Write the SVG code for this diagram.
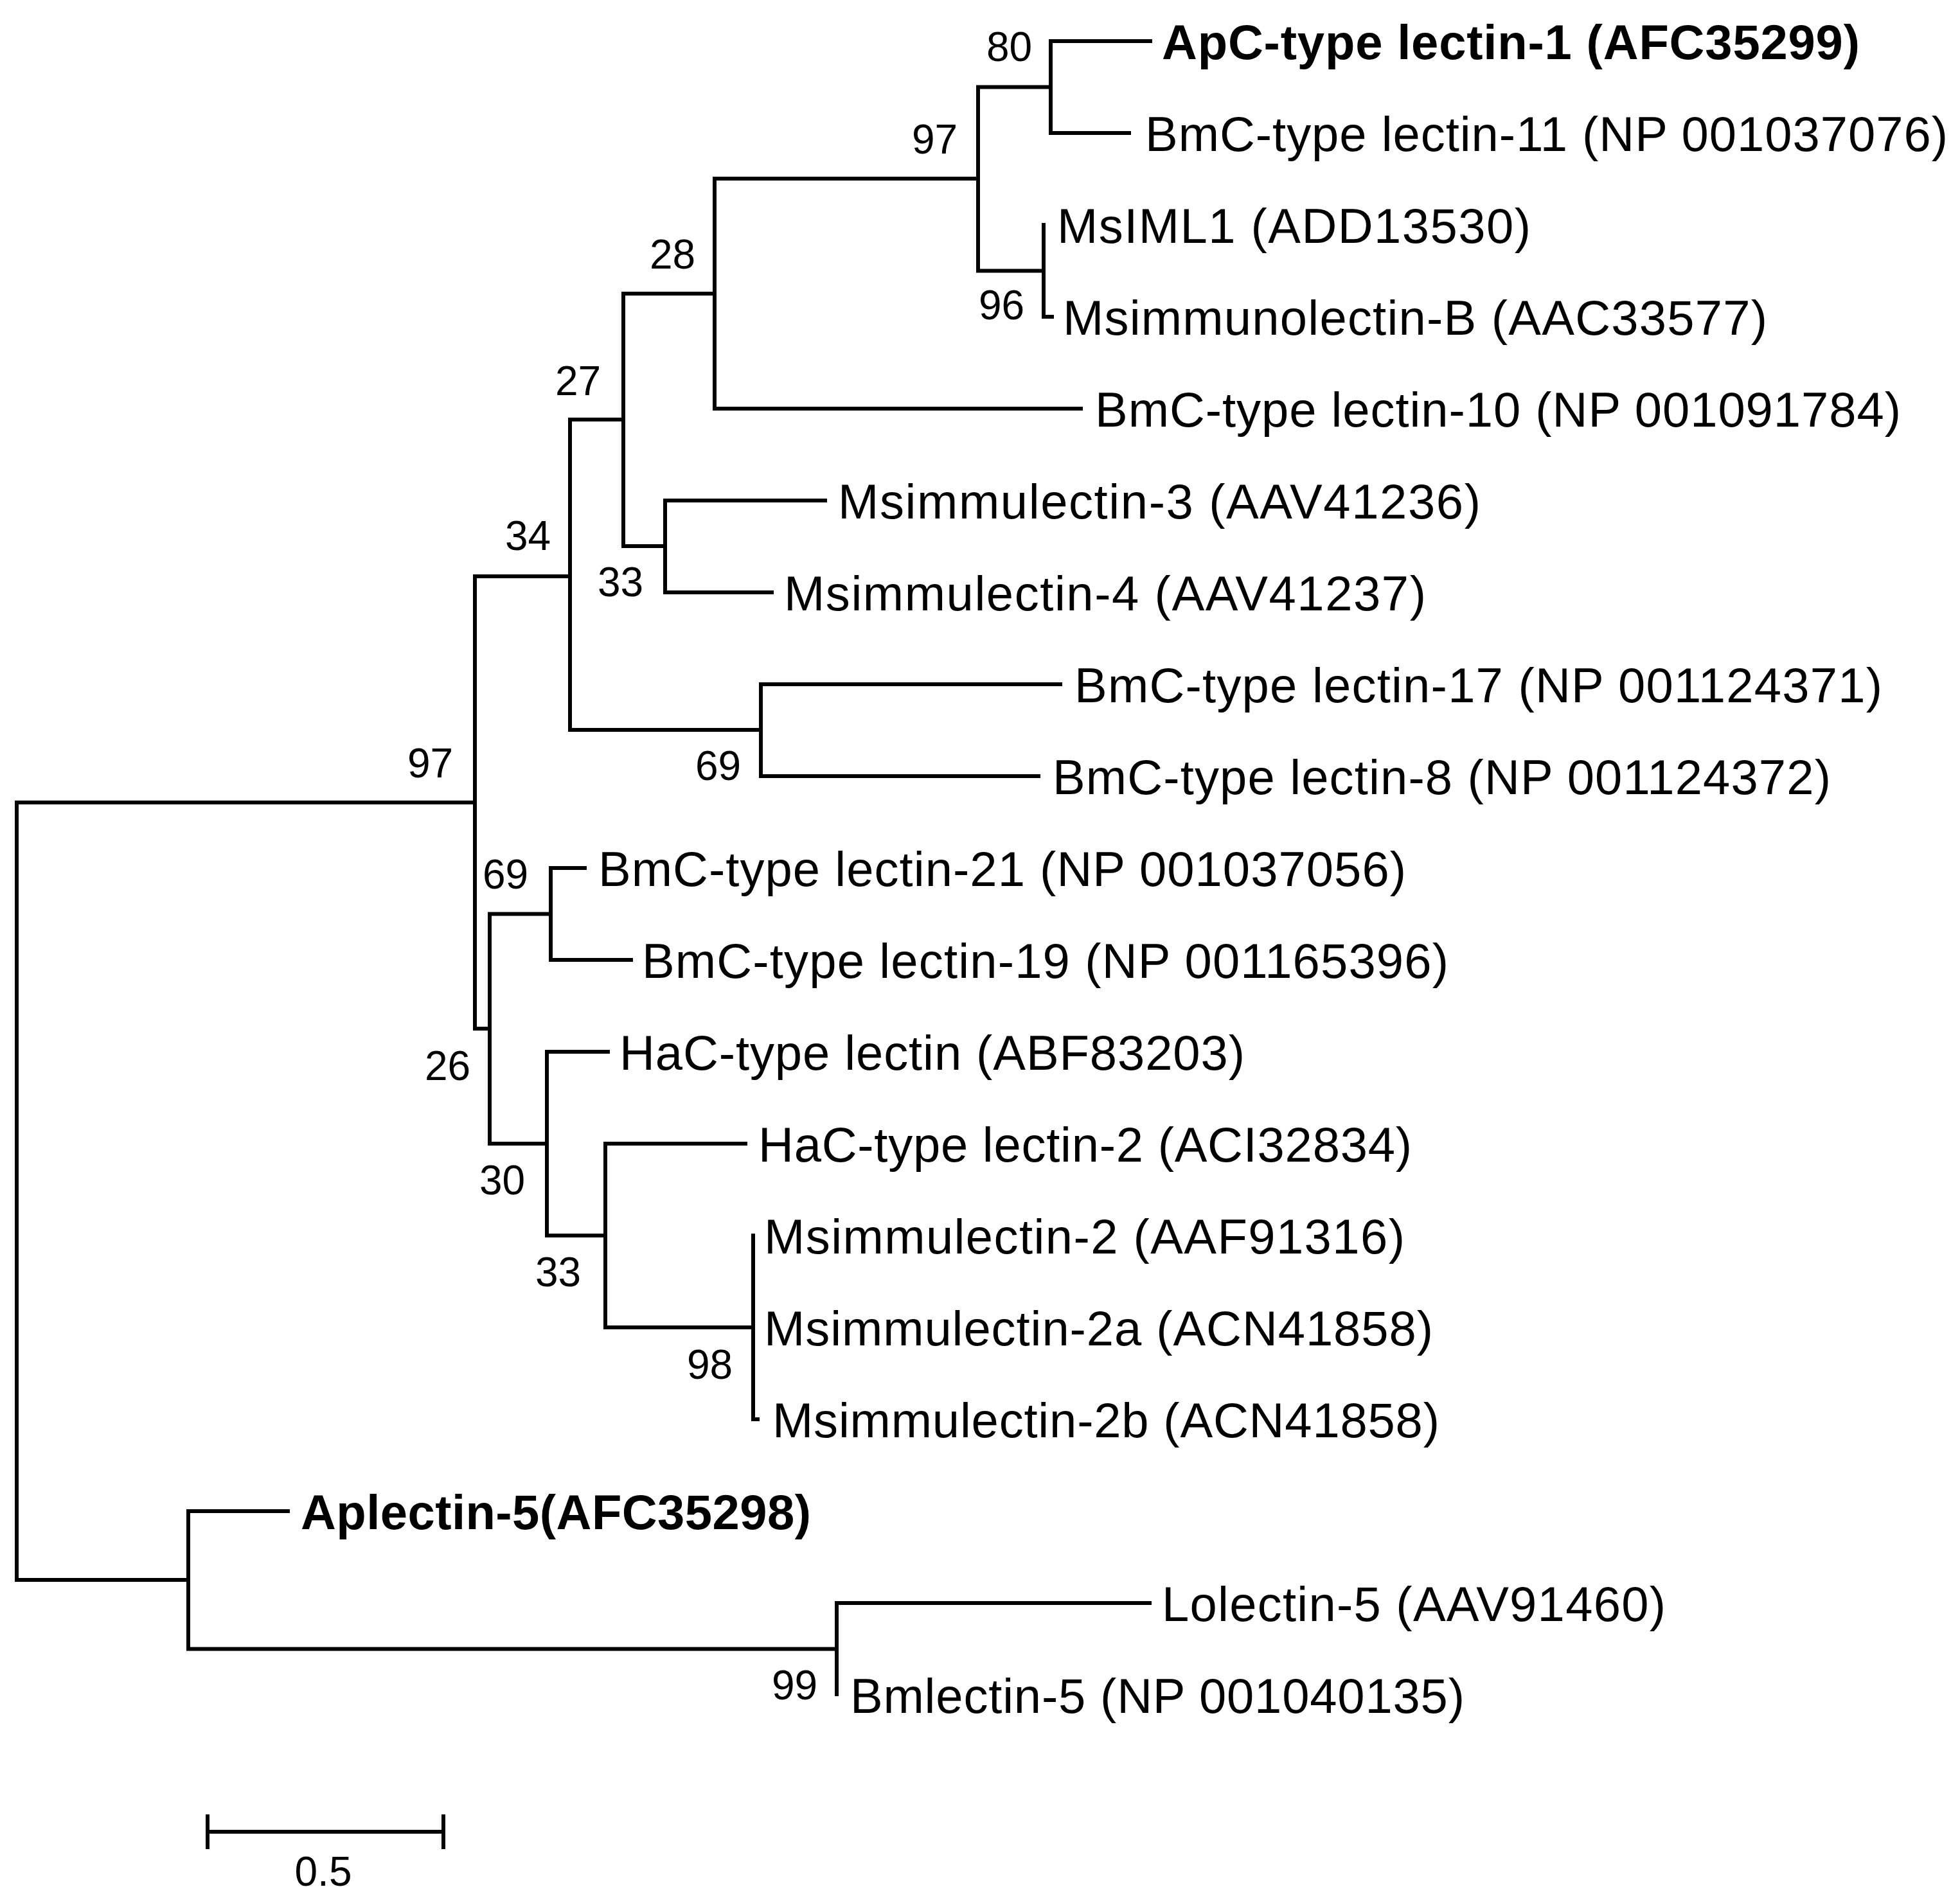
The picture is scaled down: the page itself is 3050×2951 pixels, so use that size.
<svg xmlns="http://www.w3.org/2000/svg" width="3050" height="2951" viewBox="0 0 3050 2951">
<style>
.br{fill:none;stroke:#000;stroke-width:6;stroke-linecap:butt;stroke-linejoin:miter}
.tx{font-family:"Liberation Sans",Arial,sans-serif;font-size:76px;fill:#000}
.b{font-weight:bold}
.bs{font-family:"Liberation Sans",Arial,sans-serif;font-size:64px;fill:#000}
</style>
<rect width="3050" height="2951" fill="#fff"/>
<g id="connectors">
<path class="br" d="M739 1249 H26 V2459 H293"/>
<path class="br" d="M887 897 H739 V1601 H762"/>
<path class="br" d="M970 653 H887 V1136 H1184"/>
<path class="br" d="M1112 457 H970 V850 H1035"/>
<path class="br" d="M1522 278 H1112 V636 H1685"/>
<path class="br" d="M1635 135.5 H1522 V421.5 H1624"/>
<path class="br" d="M1793 64 H1635 V207 H1760"/>
<path class="br" d="M1624 347 V493 H1640"/>
<path class="br" d="M1287 779 H1035 V922 H1204"/>
<path class="br" d="M1653 1065 H1184 V1208 H1619"/>
<path class="br" d="M857 1422.5 H762 V1780 H851"/>
<path class="br" d="M913 1351 H857 V1494 H985"/>
<path class="br" d="M949 1637 H851 V1923 H942"/>
<path class="br" d="M1163 1780 H942 V2066 H1172"/>
<path class="br" d="M1172 1920 V2209 H1182"/>
<path class="br" d="M451 2352 H293 V2566.5 H1302"/>
<path class="br" d="M1792 2495 H1302 V2640"/>
</g>
<g id="taxa">
<g id="t1"><text class="tx b" x="1808" y="92" textLength="1086" lengthAdjust="spacing">ApC-type  lectin-1 (AFC35299)</text></g>
<g id="t2"><text class="tx" x="1782" y="235" textLength="1249" lengthAdjust="spacing">BmC-type lectin-11 (NP 001037076)</text></g>
<g id="t3"><text class="tx" x="1645" y="378" textLength="737" lengthAdjust="spacing">MsIML1  (ADD13530)</text></g>
<g id="t4"><text class="tx" x="1654" y="521" textLength="1096" lengthAdjust="spacing">Msimmunolectin-B (AAC33577)</text></g>
<g id="t5"><text class="tx" x="1704" y="664" textLength="1254" lengthAdjust="spacing">BmC-type lectin-10 (NP 001091784)</text></g>
<g id="t6"><text class="tx" x="1304" y="807" textLength="1000" lengthAdjust="spacing">Msimmulectin-3 (AAV41236)</text></g>
<g id="t7"><text class="tx" x="1220" y="950" textLength="999" lengthAdjust="spacing">Msimmulectin-4 (AAV41237)</text></g>
<g id="t8"><text class="tx" x="1672" y="1093" textLength="1257" lengthAdjust="spacing">BmC-type lectin-17 (NP 001124371)</text></g>
<g id="t9"><text class="tx" x="1638" y="1236" textLength="1211" lengthAdjust="spacing">BmC-type lectin-8 (NP 001124372)</text></g>
<g id="t10"><text class="tx" x="931" y="1379" textLength="1257" lengthAdjust="spacing">BmC-type lectin-21 (NP 001037056)</text></g>
<g id="t11"><text class="tx" x="999" y="1522" textLength="1255" lengthAdjust="spacing">BmC-type lectin-19 (NP 001165396)</text></g>
<g id="t12"><text class="tx" x="964" y="1665" textLength="973" lengthAdjust="spacing">HaC-type lectin (ABF83203)</text></g>
<g id="t13"><text class="tx" x="1180" y="1808" textLength="1017" lengthAdjust="spacing">HaC-type lectin-2 (ACI32834)</text></g>
<g id="t14"><text class="tx" x="1189" y="1951" textLength="997" lengthAdjust="spacing">Msimmulectin-2 (AAF91316)</text></g>
<g id="t15"><text class="tx" x="1189" y="2094" textLength="1041" lengthAdjust="spacing">Msimmulectin-2a (ACN41858)</text></g>
<g id="t16"><text class="tx" x="1202" y="2237" textLength="1038" lengthAdjust="spacing">Msimmulectin-2b (ACN41858)</text></g>
<g id="t17"><text class="tx b" x="468" y="2380" textLength="794" lengthAdjust="spacing">Aplectin-5(AFC35298)</text></g>
<g id="t18"><text class="tx" x="1808" y="2523" textLength="784" lengthAdjust="spacing">Lolectin-5 (AAV91460)</text></g>
<g id="t19"><text class="tx" x="1323" y="2666" textLength="956" lengthAdjust="spacing">Bmlectin-5 (NP 001040135)</text></g>
</g>
<g id="bootstrap">
<text class="bs" x="1535" y="95">80</text>
<text class="bs" x="1419" y="239">97</text>
<text class="bs" x="1523" y="497">96</text>
<text class="bs" x="1011" y="418">28</text>
<text class="bs" x="864" y="615">27</text>
<text class="bs" x="786" y="856">34</text>
<text class="bs" x="930" y="928">33</text>
<text class="bs" x="634" y="1210">97</text>
<text class="bs" x="1082" y="1214">69</text>
<text class="bs" x="751" y="1383">69</text>
<text class="bs" x="661" y="1681">26</text>
<text class="bs" x="746" y="1859">30</text>
<text class="bs" x="833" y="2002">33</text>
<text class="bs" x="1069" y="2146">98</text>
<text class="bs" x="1201" y="2645">99</text>
</g>
<g id="scalebar">
<path class="br" d="M323 2851 H690 M323 2824 V2878 M690 2824 V2878"/>
<text class="bs" x="503" y="2935" text-anchor="middle">0.5</text>
</g>
</svg>
